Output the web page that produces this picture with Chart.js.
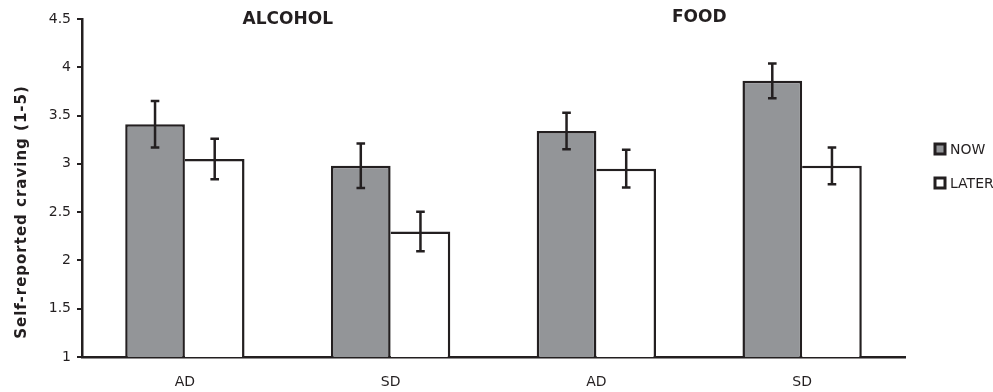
<!DOCTYPE html>
<html>
<head>
<meta charset="utf-8">
<script src="https://cdn.jsdelivr.net/npm/chart.js@4"></script>
<style>
html,body{margin:0;padding:0;background:#fff;}
canvas{display:block;}
</style>
</head>
<body>
<canvas id="c" width="993" height="392"></canvas>
<script>
const categories = ['AD', 'SD', 'AD', 'SD'];
const groupTitles = ['ALCOHOL', 'FOOD'];
const seriesNames = ['NOW', 'LATER'];
const nowValues = [3.41, 2.98, 3.34, 3.86];
const laterValues = [3.05, 2.30, 2.95, 2.98];
const nowErrors = [0.24, 0.23, 0.19, 0.18];
const laterErrors = [0.21, 0.205, 0.195, 0.19];
const yTickMin = 1, yTickMax = 4.5, yTickStep = 0.5;
const yTitle = 'Self-reported craving (1-5)';

const INK = '#231f20';
const FONT = 'DejaVu Sans';
const errors = [nowErrors, laterErrors];

const errorBarPlugin = {
  id: 'errorBars',
  afterDatasetsDraw(chart) {
    const ctx = chart.ctx, y = chart.scales.y;
    ctx.save();
    ctx.strokeStyle = INK;
    ctx.lineWidth = 2.5;
    chart.data.datasets.forEach((ds, i) => {
      const meta = chart.getDatasetMeta(i);
      meta.data.forEach((bar, j) => {
        const v = ds.data[j], e = errors[i][j];
        const yt = y.getPixelForValue(v + e), yb = y.getPixelForValue(v - e);
        const x = bar.x, cw = 4.3;
        ctx.beginPath();
        ctx.moveTo(x, yt); ctx.lineTo(x, yb);
        ctx.moveTo(x - cw, yt); ctx.lineTo(x + cw, yt);
        ctx.moveTo(x - cw, yb); ctx.lineTo(x + cw, yb);
        ctx.stroke();
      });
    });
    ctx.restore();
  }
};

const decorPlugin = {
  id: 'decor',
  afterDraw(chart) {
    const ctx = chart.ctx, x = chart.scales.x;
    ctx.save();
    ctx.fillStyle = INK;
    ctx.font = 'bold 17px "' + FONT + '"';
    ctx.textAlign = 'center';
    ctx.textBaseline = 'middle';
    ctx.fillText(groupTitles[0], x.getPixelForValue(0.5), 20);
    ctx.fillText(groupTitles[1], x.getPixelForValue(2.5), 18);
    ctx.save();
    ctx.translate(22, 212);
    ctx.rotate(-Math.PI / 2);
    ctx.font = 'bold 15px "' + FONT + '"';
    try { ctx.letterSpacing = '1px'; } catch (e) {}
    ctx.fillText(yTitle, 0, 0);
    ctx.restore();
    const ys = [149, 183];
    chart.data.datasets.forEach((ds, i) => {
      ctx.fillStyle = ds.backgroundColor;
      ctx.fillRect(935, ys[i] - 5, 10, 10);
      ctx.strokeStyle = INK;
      ctx.lineWidth = 3;
      ctx.strokeRect(935, ys[i] - 5, 10, 10);
      ctx.fillStyle = INK;
      ctx.font = '14px "' + FONT + '"';
      ctx.textAlign = 'left';
      ctx.fillText(ds.label, 950, ys[i] + 1);
    });
    ctx.restore();
  }
};

new Chart(document.getElementById('c'), {
  type: 'bar',
  data: {
    labels: categories,
    datasets: [
      { label: seriesNames[0], data: nowValues, backgroundColor: '#939598', borderColor: INK, borderWidth: 2.5 },
      { label: seriesNames[1], data: laterValues, backgroundColor: '#ffffff', borderColor: INK,
        borderWidth: { top: 2.5, right: 2.5, left: 0, bottom: 0 } }
    ]
  },
  options: {
    responsive: false,
    animation: false,
    categoryPercentage: 0.58,
    barPercentage: 1.0,
    layout: { padding: { left: 0, top: 19, right: 88, bottom: 0 } },
    plugins: { legend: { display: false }, tooltip: { enabled: false } },
    scales: {
      x: {
        grid: { display: false },
        border: { color: INK, width: 2.5 },
        ticks: { color: INK, font: { family: FONT, size: 14 }, padding: 9 },
        afterFit(s) { s.height = 35; }
      },
      y: {
        min: yTickMin, max: yTickMax,
        ticks: { stepSize: yTickStep, color: INK, font: { family: FONT, size: 14 }, padding: 6,
          callback: (v) => String(Number(v)) },
        grid: { drawOnChartArea: false, drawTicks: true, tickLength: 5, color: INK, lineWidth: 2 },
        border: { color: INK, width: 2.5 },
        afterFit(s) { s.width = 82; }
      }
    }
  },
  plugins: [errorBarPlugin, decorPlugin]
});
</script>
</body>
</html>
